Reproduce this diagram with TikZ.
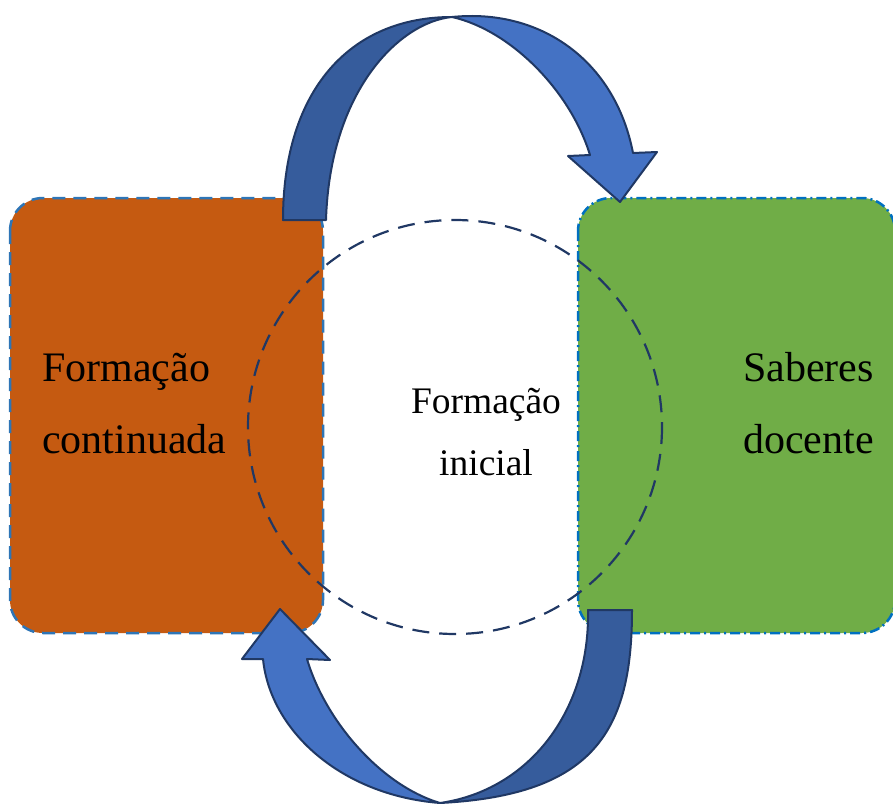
\documentclass[tikz,border=0pt]{standalone}
\usepackage{fontspec}
\setmainfont{Liberation Serif}
\definecolor{orangebox}{HTML}{C55A11}
\definecolor{greenbox}{HTML}{70AD47}
\definecolor{lightarrow}{HTML}{4472C4}
\definecolor{darkarrow}{HTML}{365C9C}
\definecolor{arrowline}{HTML}{203864}
\definecolor{boxline}{HTML}{2E75B6}
\definecolor{boxlinetwo}{HTML}{0070C0}
\begin{document}
\begin{tikzpicture}
  [x=1pt,y=-1pt,
   band/.style={draw=arrowline,line width=2pt,line join=round},
   bigtext/.style={font=\fontsize{42}{72}\selectfont,inner sep=0pt,align=left,anchor=base west}]
  \useasboundingbox (0,0) rectangle (893,803);

  \draw[fill=orangebox,draw=boxline,line width=2.5pt,dash pattern=on 13pt off 8pt,rounded corners=33pt] (10,198) rectangle (323,633);
  \draw[fill=greenbox,draw=boxlinetwo,line width=2.5pt,dash pattern=on 10pt off 4pt on 2pt off 4pt,rounded corners=33pt] (578,198) rectangle (895,633);

  \draw[arrowline,line width=2.2pt,dash pattern=on 17pt off 10pt] (455,427) circle (207);

  % top arrow
  \draw[band,fill=darkarrow] (283,220) .. controls (283,90) and (350,17) .. (452,17)
    .. controls (400,22) and (330,90) .. (326,220) -- cycle;
  \draw[band,fill=lightarrow] (452,17) .. controls (540,8) and (615,60) .. (633,153)
    -- (657,152) -- (620,202) -- (568,156) -- (590,155)
    .. controls (570,90) and (510,30) .. (452,17) -- cycle;

  % bottom arrow
  \draw[band,fill=darkarrow] (588,610) -- (632,610) .. controls (632,730) and (595,795) .. (440,803)
    .. controls (530,790) and (590,710) .. (588,610) -- cycle;
  \draw[band,fill=lightarrow] (440,803) .. controls (340,795) and (270,730) .. (263,659)
    -- (242,659) -- (280,609) -- (330,660) -- (307,659)
    .. controls (325,720) and (380,785) .. (440,803) -- cycle;

  \node[bigtext] (cont) at (42,453) {Formação\\continuada};
  \node[bigtext] (sab) at (743,453) {Saberes\\docente};
  \node[font=\fontsize{37.5}{62}\selectfont,inner sep=0pt,align=center,anchor=base] (ini) at (486,475) {Formação\\inicial};
\end{tikzpicture}
\end{document}
